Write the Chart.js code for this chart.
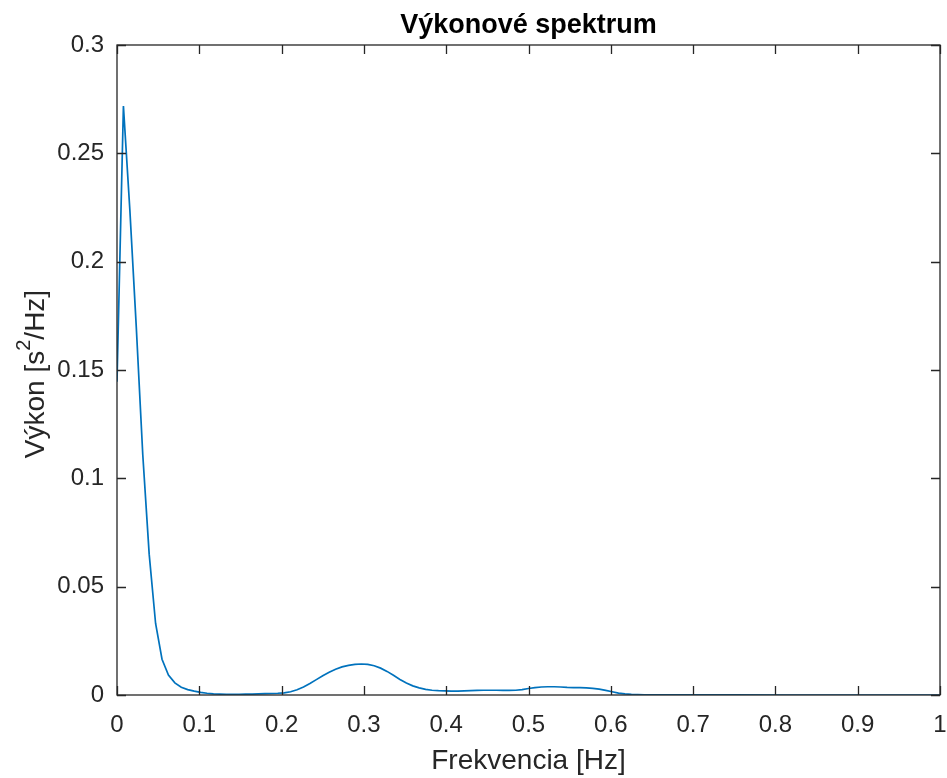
<!DOCTYPE html>
<html>
<head>
<meta charset="utf-8">
<script src="https://cdn.jsdelivr.net/npm/chart.js@4.4.1/dist/chart.umd.min.js"></script>
<style>
  html, body { margin: 0; padding: 0; background: #fff; }
  canvas { display: block; }
</style>
</head>
<body>
<canvas id="spectrum" width="947" height="778"></canvas>
<script>
// --- Data ---
const chartTitle = "Výkonové spektrum";
const xTitle = "Frekvencia [Hz]";

const freq = [
  0.0000, 0.0078, 0.0156, 0.0234, 0.0313, 0.0391, 0.0469, 0.0547, 0.0625, 0.0703,
  0.0781, 0.0859, 0.0938, 0.1016, 0.1094, 0.1172, 0.1250, 0.1328, 0.1406, 0.1484,
  0.1563, 0.1641, 0.1719, 0.1797, 0.1875, 0.1953, 0.2031, 0.2109, 0.2188, 0.2266,
  0.2344, 0.2422, 0.2500, 0.2578, 0.2656, 0.2734, 0.2813, 0.2891, 0.2969, 0.3047,
  0.3125, 0.3203, 0.3281, 0.3359, 0.3438, 0.3516, 0.3594, 0.3672, 0.3750, 0.3828,
  0.3906, 0.3984, 0.4063, 0.4141, 0.4219, 0.4297, 0.4375, 0.4453, 0.4531, 0.4609,
  0.4688, 0.4766, 0.4844, 0.4922, 0.5000, 0.5078, 0.5156, 0.5234, 0.5313, 0.5391,
  0.5469, 0.5547, 0.5625, 0.5703, 0.5781, 0.5859, 0.5938, 0.6016, 0.6094, 0.6172,
  0.6250, 0.6328, 0.6406, 0.6484, 0.6563, 0.6875, 0.7500, 0.8125, 0.8750, 0.9375,
  1.0000
];

const power = [
  0.1446, 0.2718, 0.2240, 0.1700, 0.1110, 0.0650, 0.0330, 0.0165, 0.0092, 0.0056,
  0.0036, 0.0025, 0.0018, 0.0012, 0.0008, 0.0005, 0.0004, 0.0003, 0.0003, 0.0003,
  0.0004, 0.0004, 0.0005, 0.0006, 0.0007, 0.0008, 0.0010, 0.0015, 0.0024, 0.0037,
  0.0053, 0.0071, 0.0089, 0.0105, 0.0119, 0.0130, 0.0137, 0.0141, 0.0143, 0.0141,
  0.0135, 0.0124, 0.0109, 0.0091, 0.0072, 0.0055, 0.0042, 0.0033, 0.0026, 0.0022,
  0.0020, 0.0019, 0.0018, 0.0018, 0.0019, 0.0020, 0.0021, 0.0022, 0.0022, 0.0022,
  0.0021, 0.0021, 0.0022, 0.0025, 0.0030, 0.0034, 0.0037, 0.0038, 0.0038, 0.0037,
  0.0035, 0.0034, 0.0034, 0.0033, 0.0031, 0.0027, 0.0021, 0.0015, 0.0009, 0.0005,
  0.0003, 0.0002, 0.0001, 0.0001, 0.00005, 0.00003, 0.00002, 0.00001, 0.00001, 0.00001,
  0.00001
];

const xTicks = [0, 0.1, 0.2, 0.3, 0.4, 0.5, 0.6, 0.7, 0.8, 0.9, 1];
const yTicks = [0, 0.05, 0.1, 0.15, 0.2, 0.25, 0.3];

// --- Style ---
const AXIS_COLOR = "#262626";
const LINE_COLOR = "#0072BD";
const FONT = "'Liberation Sans', Arial, Helvetica, sans-serif";
const TICK_LEN = 9;

// --- MATLAB-like box, inward ticks, title and y label ---
const matlabFrame = {
  id: "matlabFrame",
  afterDraw(chart) {
    const { ctx, chartArea: a, scales } = chart;
    ctx.save();
    ctx.strokeStyle = AXIS_COLOR;
    ctx.lineWidth = 1.3;
    ctx.strokeRect(a.left, a.top, a.right - a.left, a.bottom - a.top);

    ctx.beginPath();
    xTicks.forEach((v) => {
      const px = Math.round(scales.x.getPixelForValue(v)) + 0.5;
      ctx.moveTo(px, a.bottom); ctx.lineTo(px, a.bottom - TICK_LEN);
      ctx.moveTo(px, a.top); ctx.lineTo(px, a.top + TICK_LEN);
    });
    yTicks.forEach((v) => {
      const py = Math.round(scales.y.getPixelForValue(v)) + 0.5;
      ctx.moveTo(a.left, py); ctx.lineTo(a.left + TICK_LEN, py);
      ctx.moveTo(a.right, py); ctx.lineTo(a.right - TICK_LEN, py);
    });
    ctx.stroke();

    // title
    ctx.fillStyle = "#000";
    ctx.font = "bold 27px " + FONT;
    ctx.textAlign = "center";
    ctx.textBaseline = "middle";
    ctx.fillText(chartTitle, (a.left + a.right) / 2, 26);

    // y axis label with superscript
    const big = "28px " + FONT;
    const small = "20px " + FONT;
    const parts = [
      { t: "Výkon [s", f: big, dy: 0 },
      { t: "2", f: small, dy: -12 },
      { t: "/Hz]", f: big, dy: 0 }
    ];
    let total = 0;
    parts.forEach((p) => { ctx.font = p.f; p.w = ctx.measureText(p.t).width; total += p.w; });
    ctx.translate(36, (a.top + a.bottom) / 2 + 4);
    ctx.rotate(-Math.PI / 2);
    ctx.fillStyle = AXIS_COLOR;
    ctx.textAlign = "left";
    ctx.textBaseline = "middle";
    let x = -total / 2;
    parts.forEach((p) => {
      ctx.font = p.f;
      ctx.fillText(p.t, x, p.dy);
      x += p.w;
    });
    ctx.restore();
  }
};

function fmt(v) {
  return String(Number(v.toFixed(2)));
}

new Chart(document.getElementById("spectrum"), {
  type: "scatter",
  data: {
    datasets: [
      {
        data: freq.map((f, i) => ({ x: f, y: power[i] })),
        showLine: true,
        borderColor: LINE_COLOR,
        borderWidth: 1.7,
        pointRadius: 0,
        tension: 0
      }
    ]
  },
  options: {
    responsive: false,
    animation: false,
    layout: { padding: { top: 45, right: 7, left: 0, bottom: 0 } },
    plugins: {
      legend: { display: false },
      tooltip: { enabled: false },
      title: { display: false }
    },
    scales: {
      x: {
        type: "linear",
        min: 0,
        max: 1,
        afterBuildTicks: (s) => { s.ticks = xTicks.map((v) => ({ value: v })); },
        afterFit: (s) => { s.height = 83; s.paddingLeft = 0; s.paddingRight = 0; },
        grid: { display: false, drawTicks: false },
        border: { display: false },
        ticks: {
          color: AXIS_COLOR,
          font: { family: FONT, size: 24 },
          padding: 16,
          maxRotation: 0,
          callback: fmt
        },
        title: {
          display: true,
          text: xTitle,
          color: AXIS_COLOR,
          font: { family: FONT, size: 28 },
          padding: { top: 9, bottom: 0 }
        }
      },
      y: {
        min: 0,
        max: 0.3,
        afterBuildTicks: (s) => { s.ticks = yTicks.map((v) => ({ value: v })); },
        afterFit: (s) => { s.width = 117; s.paddingTop = 0; s.paddingBottom = 0; },
        grid: { display: false, drawTicks: false },
        border: { display: false },
        ticks: {
          color: AXIS_COLOR,
          font: { family: FONT, size: 24 },
          padding: 13,
          callback: fmt
        }
      }
    }
  },
  plugins: [matlabFrame]
});
</script>
</body>
</html>
